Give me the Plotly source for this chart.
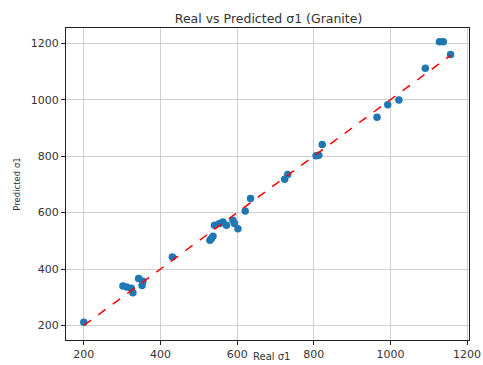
import plotly.graph_objects as go

real_sigma1 = [200, 302, 312, 324, 328, 343, 354, 352, 431, 529, 533, 537, 541, 554,
               563, 572, 589, 593, 602, 621, 635, 724, 732, 806, 813, 822, 965, 993,
               1022, 1091, 1128, 1138, 1157]
pred_sigma1 = [211, 340, 336, 332, 316, 366, 357, 342, 443, 502, 508, 516, 555, 561,
               567, 555, 573, 561, 543, 606, 650, 718, 735, 801, 803, 841, 938, 982,
               999, 1111, 1205, 1205, 1160]
tick_vals = [200, 400, 600, 800, 1000, 1200]

lo, hi = min(real_sigma1), max(real_sigma1)

fig = go.Figure()
fig.add_trace(go.Scatter(x=real_sigma1, y=pred_sigma1, mode="markers",
                         marker=dict(color="#1f77b4", size=7.5, line=dict(width=0)),
                         showlegend=False))
fig.add_trace(go.Scatter(x=[lo, hi], y=[lo, hi], mode="lines",
                         line=dict(color="#ff0000", dash="dash", width=1.5),
                         showlegend=False))

font = "DejaVu Sans"
axis_common = dict(showline=True, linecolor="#222222", linewidth=1, mirror=True,
                   ticks="outside", ticklen=4, tickcolor="#222222",
                   showgrid=True, gridcolor="#cfcfcf", gridwidth=1, zeroline=False,
                   automargin=False,
                   tickfont=dict(family=font, size=11, color="#333333"),
                   tickvals=tick_vals)

fig.update_layout(
    width=483, height=365,
    margin=dict(l=66, r=14, t=28, b=25),
    paper_bgcolor="white", plot_bgcolor="white",
    title=dict(text="Real vs Predicted σ1 (Granite)", x=0.556, xanchor="center",
               y=0.95, yanchor="middle",
               font=dict(family=font, size=12.5, color="#333333")),
    xaxis=dict(range=[153.5, 1205], **axis_common),
    yaxis=dict(range=[148.5, 1254], title=dict(text="Predicted σ1", standoff=8,
               font=dict(family=font, size=8.5, color="#333333")), **axis_common),
    annotations=[dict(text="Real σ1", xref="paper", yref="paper", x=0.51, y=-0.074,
                      xanchor="center", yanchor="bottom", showarrow=False,
                      borderpad=0,
                      font=dict(family=font, size=10, color="#333333"))],
)

fig.write_html("out.html")
